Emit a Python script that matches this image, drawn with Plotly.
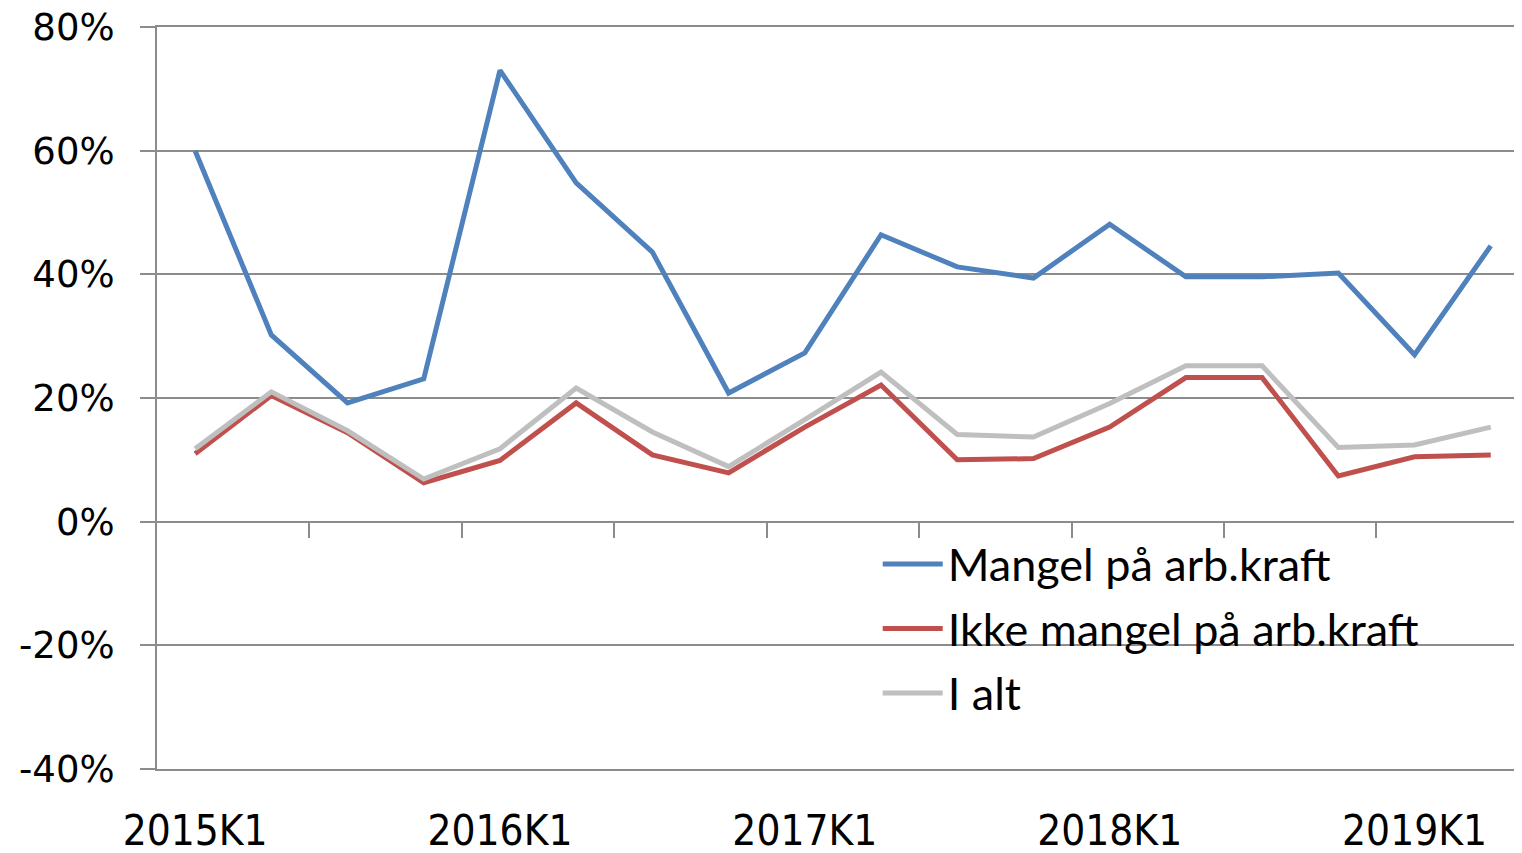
import plotly.graph_objects as go

quarters = ["2015K1", "2015K2", "2015K3", "2015K4",
            "2016K1", "2016K2", "2016K3", "2016K4",
            "2017K1", "2017K2", "2017K3", "2017K4",
            "2018K1", "2018K2", "2018K3", "2018K4",
            "2019K1", "2019K2"]

mangel = [60.0, 30.2, 19.2, 23.1, 73.0, 54.8, 43.6, 20.8, 27.3,
          46.4, 41.2, 39.4, 48.1, 39.6, 39.6, 40.2, 27.0, 44.6]
ikke_mangel = [11.0, 20.4, 14.4, 6.3, 9.9, 19.2, 10.8, 7.9, 15.3,
               22.1, 10.0, 10.2, 15.3, 23.3, 23.3, 7.4, 10.5, 10.8]
i_alt = [11.8, 21.0, 14.7, 6.9, 11.8, 21.6, 14.5, 8.9, 16.5,
         24.2, 14.1, 13.7, 19.1, 25.2, 25.2, 12.0, 12.4, 15.3]

series_names = ["Mangel på arb.kraft", "Ikke mangel på arb.kraft", "I alt"]
series_colors = ["#4F81BD", "#C0504D", "#BFBFBF"]

y_ticks = [-40, -20, 0, 20, 40, 60, 80]
label_every = 4

idx = list(range(len(quarters)))

fig = go.Figure()
for name, vals, col, grp in zip(series_names, [mangel, ikke_mangel, i_alt], series_colors, ["a", "b", "c"]):
    fig.add_trace(go.Scatter(
        x=idx, y=vals, mode="lines", name=name,
        line=dict(color=col, width=5),
        legendgroup=grp,
        hovertemplate="%{text}: %{y:.1f}%<extra>" + name + "</extra>",
        text=quarters,
    ))

grid_col = "#8C8C8C"
xrange = [-0.5, 17.41]
yrange = [y_ticks[0], y_ticks[-1]]

fig.update_layout(
    width=1522, height=853,
    margin=dict(l=149, r=8, t=19, b=92),
    paper_bgcolor="white", plot_bgcolor="white",
    showlegend=True,
    legend=dict(
        x=0.528, y=0.3246, xanchor="left", yanchor="top",
        font=dict(family="Lato, Open Sans, sans-serif", size=45, color="#000000"),
        bgcolor="rgba(0,0,0,0)",
        tracegroupgap=3,
        itemwidth=60,
    ),
    xaxis=dict(
        range=xrange,
        automargin=False,
        tickmode="array",
        tickvals=idx[::label_every],
        ticktext=quarters[::label_every],
        showgrid=False, zeroline=False,
        showline=True, mirror=True, linecolor=grid_col, linewidth=1.5,
        ticks="outside", ticklen=24, tickcolor="rgba(0,0,0,0)",
        ticklabeloverflow="allow",
        tickfont=dict(family="DejaVu Sans Condensed, Liberation Sans Narrow, sans-serif", size=42, color="#000000"),
    ),
    xaxis2=dict(
        range=xrange,
        overlaying="x",
        anchor="free",
        position=(0 - yrange[0]) / (yrange[1] - yrange[0]),
        side="bottom",
        automargin=False,
        tickmode="array",
        tickvals=[i + 0.5 for i in idx[1:-1:2]],
        showticklabels=False,
        ticks="outside", ticklen=15, tickwidth=2, tickcolor=grid_col,
        showline=True, linecolor=grid_col, linewidth=2,
        showgrid=False, zeroline=False,
    ),
    yaxis=dict(
        range=yrange,
        automargin=False,
        tickmode="array",
        tickvals=y_ticks,
        ticktext=[f"{v}%" for v in y_ticks],
        showgrid=True, gridcolor=grid_col, gridwidth=1.5,
        zeroline=False,
        showline=True, linecolor=grid_col, linewidth=2,
        ticks="outside", ticklen=15, tickwidth=1.5, tickcolor=grid_col,
        ticklabelstandoff=18,
        ticklabeloverflow="allow",
        tickfont=dict(family="DejaVu Sans, sans-serif", size=37, color="#000000"),
    ),
)

# dummy trace to make xaxis2 appear
fig.add_trace(go.Scatter(x=[None], y=[None], xaxis="x2", showlegend=False, hoverinfo="skip"))

fig.write_html("out.html")
